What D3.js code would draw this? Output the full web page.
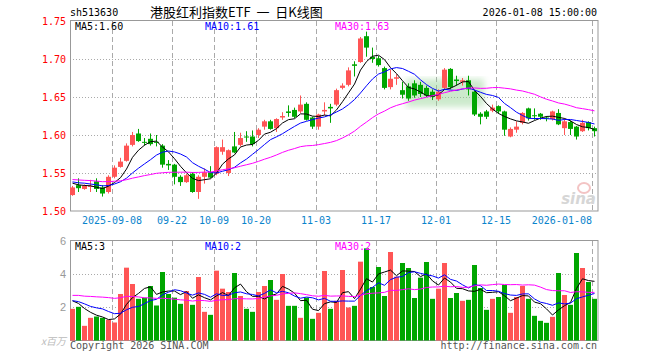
<!DOCTYPE html>
<html>
<head>
<meta charset="utf-8">
<script src="https://cdn.jsdelivr.net/npm/d3@7"></script>
<style>
body { margin: 0; background: #fff; }
svg { display: block; }
</style>
</head>
<body>
<svg id="chart" width="660" height="360"></svg>
<script>
// trading days shown (2025-08-28 .. 2026-01-08)
const dates = [
  "2025-08-28","2025-08-29",
  "2025-09-01","2025-09-02","2025-09-03","2025-09-04","2025-09-05",
  "2025-09-08","2025-09-09","2025-09-10","2025-09-11","2025-09-12",
  "2025-09-15","2025-09-16","2025-09-17","2025-09-18","2025-09-19",
  "2025-09-22","2025-09-23","2025-09-24","2025-09-25","2025-09-26",
  "2025-09-29","2025-09-30",
  "2025-10-09","2025-10-10",
  "2025-10-13","2025-10-14","2025-10-15","2025-10-16","2025-10-17",
  "2025-10-20","2025-10-21","2025-10-22","2025-10-23","2025-10-24",
  "2025-10-27","2025-10-28","2025-10-29","2025-10-30","2025-10-31",
  "2025-11-03","2025-11-04","2025-11-05","2025-11-06","2025-11-07",
  "2025-11-10","2025-11-11","2025-11-12","2025-11-13","2025-11-14",
  "2025-11-17","2025-11-18","2025-11-19","2025-11-20","2025-11-21",
  "2025-11-24","2025-11-25","2025-11-26","2025-11-27","2025-11-28",
  "2025-12-01","2025-12-02","2025-12-03","2025-12-04","2025-12-05",
  "2025-12-08","2025-12-09","2025-12-10","2025-12-11","2025-12-12",
  "2025-12-15","2025-12-16","2025-12-17","2025-12-18","2025-12-19",
  "2025-12-22","2025-12-23","2025-12-24","2025-12-25","2025-12-26",
  "2025-12-29","2025-12-30","2025-12-31",
  "2026-01-05","2026-01-06","2026-01-07","2026-01-08"
];

const openP = [
  1.521,1.534,1.529,1.532,1.539,1.531,1.525,1.545,1.558,1.566,
  1.587,1.602,1.591,1.595,1.591,1.586,1.562,1.561,1.545,1.538,
  1.549,1.525,1.545,1.551,1.549,1.578,1.550,1.585,1.587,1.598,
  1.598,1.600,1.611,1.618,1.609,1.623,1.631,1.633,1.631,1.641,
  1.623,1.611,1.631,1.637,1.640,1.662,1.666,1.693,1.696,1.730,
  1.703,1.701,1.688,1.663,1.674,1.659,1.664,1.668,1.666,1.662,
  1.657,1.647,1.662,1.687,1.673,1.670,1.672,1.657,1.628,1.631,
  1.632,1.638,1.631,1.598,1.607,1.616,1.635,1.626,1.628,1.623,
  1.621,1.629,1.609,1.617,1.611,1.605,1.617,1.609
];
const highP = [
  1.533,1.543,1.535,1.541,1.543,1.534,1.547,1.560,1.570,1.589,
  1.604,1.608,1.596,1.602,1.600,1.588,1.567,1.562,1.547,1.549,
  1.551,1.547,1.556,1.559,1.585,1.594,1.581,1.604,1.603,1.605,
  1.606,1.609,1.620,1.620,1.622,1.630,1.639,1.636,1.652,1.643,
  1.624,1.628,1.643,1.641,1.661,1.668,1.689,1.697,1.729,1.736,
  1.715,1.704,1.690,1.686,1.680,1.670,1.668,1.672,1.670,1.665,
  1.660,1.660,1.688,1.688,1.678,1.675,1.678,1.658,1.630,1.633,
  1.640,1.639,1.632,1.610,1.618,1.630,1.636,1.635,1.629,1.625,
  1.632,1.634,1.622,1.619,1.612,1.620,1.618,1.611
];
const lowP = [
  1.520,1.525,1.528,1.525,1.525,1.519,1.523,1.543,1.557,1.565,
  1.585,1.591,1.586,1.586,1.585,1.557,1.554,1.535,1.533,1.537,
  1.524,1.516,1.536,1.543,1.547,1.574,1.546,1.576,1.585,1.591,
  1.585,1.596,1.607,1.607,1.604,1.620,1.624,1.622,1.629,1.619,
  1.608,1.607,1.626,1.616,1.638,1.660,1.664,1.677,1.695,1.703,
  1.695,1.690,1.660,1.660,1.666,1.648,1.645,1.649,1.650,1.650,
  1.646,1.645,1.660,1.660,1.665,1.665,1.652,1.625,1.614,1.621,
  1.630,1.628,1.599,1.597,1.603,1.614,1.619,1.620,1.620,1.618,
  1.619,1.613,1.600,1.600,1.594,1.604,1.606,1.598
];
const closeP = [
  1.531,1.530,1.533,1.533,1.529,1.523,1.545,1.557,1.565,1.586,
  1.600,1.592,1.590,1.588,1.590,1.561,1.560,1.545,1.538,1.547,
  1.525,1.545,1.551,1.544,1.584,1.584,1.580,1.577,1.596,1.597,
  1.588,1.607,1.618,1.608,1.621,1.625,1.629,1.624,1.640,1.620,
  1.611,1.627,1.633,1.635,1.659,1.665,1.685,1.691,1.727,1.715,
  1.700,1.692,1.662,1.674,1.676,1.653,1.648,1.652,1.654,1.652,
  1.650,1.657,1.686,1.663,1.671,1.672,1.660,1.627,1.624,1.624,
  1.636,1.631,1.607,1.608,1.611,1.629,1.622,1.625,1.624,1.622,
  1.631,1.614,1.618,1.608,1.598,1.616,1.609,1.605
];
// volume, millions
const volume = [
  1.90,2.02,0.88,1.36,1.44,1.36,1.24,1.08,2.79,4.37,
  3.39,2.50,2.57,3.27,2.10,4.11,2.79,2.57,2.20,2.97,
  2.14,3.81,1.72,1.54,4.19,3.11,2.91,4.05,2.67,1.90,
  1.72,2.91,3.27,3.63,2.44,3.99,2.08,2.08,1.36,2.57,
  1.30,1.66,4.17,1.90,2.38,4.23,1.98,2.08,4.73,5.53,
  3.21,4.41,2.67,5.31,3.83,4.65,4.35,2.55,3.77,4.71,
  2.50,3.11,4.65,2.55,2.85,2.38,2.44,4.53,3.15,1.84,
  2.50,2.61,3.33,1.66,2.61,3.27,2.50,1.48,1.18,1.06,
  1.42,4.05,2.73,2.14,5.25,4.35,3.51,2.50
];
// sessions before the window, estimated from where the MA lines start
const priorClose = [
  1.545,1.548,1.543,1.550,1.546,1.541,1.544,1.547,1.542,
  1.540,1.543,1.538,1.545,1.542,1.539,1.544,1.541,1.537,1.543,1.540,
  1.542,1.538,1.544,1.540,1.536,1.541,1.537,1.535,1.539
];
const priorVolume = [
  2.0,2.3,1.8,2.2,1.9,2.1,2.4,1.7,1.8,
  3.8,3.2,4.1,3.5,3.0,3.9,3.4,3.6,3.3,3.7,3.6,
  2.6,2.2,2.9,2.3,2.0,2.8,2.4,2.5,2.3
];

const priceTicks = [1.50, 1.55, 1.60, 1.65, 1.70, 1.75];
const volTicks = [2, 4, 6];
const dateTicks = ["2025-09-08","2025-09-22","2025-10-09","2025-10-20","2025-11-03",
                   "2025-11-17","2025-12-01","2025-12-15","2026-01-08"];
const dateTickLabels = ["2025-09-08","09-22","10-09","10-20","11-03",
                        "11-17","12-01","12-15","2026-01-08"];

const upColor = "#ff5555";
const downColor = "#00a600";
const gridColor = "#aaa";
const mono = "'DejaVu Sans Mono', monospace";

const svg = d3.select("#chart");

const left = 70, right = 598;
const x = d3.scaleBand().domain(dates).range([left, right]).paddingInner(0).paddingOuter(0);
const y = d3.scaleLinear().domain([1.50, 1.75]).range([211, 21]);
const vy = d3.scaleLinear().domain([0, 6]).range([340.5, 240.5]);
const cx = d => x(d) + 2.5;

function movingAvg(prior, values, n) {
    const all = prior.concat(values);
    return values.map((v, i) => d3.mean(all.slice(prior.length + i - n + 1, prior.length + i + 1)));
}

// ---------- header ----------
svg.append("text").attr("x", 70).attr("y", 16)
    .style("font", "10px " + mono).attr("fill", "#000").text("sh513630");
svg.append("text").attr("x", 150).attr("y", 17)
    .style("font-family", "'Noto Sans CJK SC', sans-serif").style("font-size", "13px")
    .attr("fill", "#000").text("港股红利指数ETF\u00a0\u00a0一\u00a0\u00a0日K线图");
svg.append("text").attr("x", 597).attr("y", 16).attr("text-anchor", "end")
    .style("font", "10px " + mono).attr("fill", "#000").text("2026-01-08 15:00:00");

// ---------- price panel ----------
const pricePanel = svg.append("g");

// dotted horizontal gridlines
pricePanel.selectAll(".hgrid").data(priceTicks.slice(1, -1)).enter().append("line")
    .attr("x1", left).attr("x2", right)
    .attr("y1", d => Math.round(y(d)) + 0.5).attr("y2", d => Math.round(y(d)) + 0.5)
    .attr("stroke", gridColor).attr("stroke-dasharray", "1,2");

// dashed vertical gridlines
pricePanel.selectAll(".vgrid").data(dateTicks).enter().append("line")
    .attr("x1", d => x(d) + 0.5).attr("x2", d => x(d) + 0.5)
    .attr("y1", 21).attr("y2", 211)
    .attr("stroke", gridColor).attr("stroke-dasharray", "5,3");

// border
pricePanel.append("rect").attr("x", left + 0.5).attr("y", 20.5)
    .attr("width", right - left - 0.5).attr("height", 190.5)
    .attr("fill", "none").attr("stroke", "#999");

// price labels
pricePanel.selectAll(".plabel").data(priceTicks).enter().append("text")
    .attr("x", 66).attr("y", d => y(d) + 4).attr("text-anchor", "end")
    .style("font", "10px " + mono).attr("fill", "#f00")
    .text(d => d.toFixed(2));

// date labels (the last one is pulled inside the plot)
pricePanel.selectAll(".dlabel").data(dateTicks).enter().append("text")
    .attr("x", d => x(d))
    .attr("y", 224)
    .attr("text-anchor", (d, i) => i === dateTicks.length - 1 ? "end" : "middle")
    .style("font", "10px " + mono).attr("fill", "#0a84cc")
    .text((d, i) => dateTickLabels[i]);

// sina watermark
pricePanel.append("ellipse").attr("cx", 584).attr("cy", 188).attr("rx", 6).attr("ry", 5)
    .attr("fill", "none").attr("stroke", "#f3c4c4").attr("stroke-width", 2);
pricePanel.append("text").attr("x", 596).attr("y", 204).attr("text-anchor", "end")
    .style("font-family", "'DejaVu Sans', sans-serif").style("font-size", "15px")
    .style("font-weight", "bold").style("font-style", "italic")
    .attr("fill", "#d6d6d6").text("sina");

// faint overlay patch in the middle of the chart
const defs = svg.append("defs");
defs.append("filter").attr("id", "blur").append("feGaussianBlur").attr("stdDeviation", 3);
pricePanel.append("rect").attr("x", 406).attr("y", 79).attr("width", 78).attr("height", 28)
    .attr("fill", "#8fd08f").attr("opacity", 0.45).attr("filter", "url(#blur)");

// candles
const candles = pricePanel.selectAll(".candle").data(dates).enter().append("g");
candles.append("line")
    .attr("x1", d => cx(d)).attr("x2", d => cx(d))
    .attr("y1", (d, i) => y(highP[i])).attr("y2", (d, i) => y(lowP[i]))
    .attr("stroke", (d, i) => closeP[i] >= openP[i] ? upColor : downColor);
candles.append("rect")
    .attr("x", d => x(d))
    .attr("y", (d, i) => y(Math.max(openP[i], closeP[i])))
    .attr("width", 5)
    .attr("height", (d, i) => Math.max(1, Math.abs(y(openP[i]) - y(closeP[i]))))
    .attr("fill", (d, i) => closeP[i] >= openP[i] ? upColor : downColor);

// moving averages
const maDefs = [[5, "#000"], [10, "#0000ff"], [30, "#ff00ff"]];
const priceLine = d3.line().x((d, i) => cx(dates[i])).y(d => y(d));
maDefs.forEach(([n, c]) => {
    pricePanel.append("path").datum(movingAvg(priorClose, closeP, n))
        .attr("d", priceLine).attr("fill", "none").attr("stroke", c).attr("stroke-width", 1);
});

// MA legend
const priceLegend = [["MA5:1.60", 75, "#000"], ["MA10:1.61", 205, "#0000ff"], ["MA30:1.63", 335, "#ff00ff"]];
priceLegend.forEach(([t, lx, c]) => {
    pricePanel.append("text").attr("x", lx).attr("y", 30)
        .style("font", "10px " + mono).attr("fill", c).text(t);
});

// ---------- volume panel ----------
const volPanel = svg.append("g");

volPanel.selectAll(".hgrid").data(volTicks.slice(0, -1)).enter().append("line")
    .attr("x1", left).attr("x2", right)
    .attr("y1", d => Math.round(vy(d)) + 0.5).attr("y2", d => Math.round(vy(d)) + 0.5)
    .attr("stroke", gridColor).attr("stroke-dasharray", "1,2");

volPanel.selectAll(".vgrid").data(dateTicks).enter().append("line")
    .attr("x1", d => x(d) + 0.5).attr("x2", d => x(d) + 0.5)
    .attr("y1", 241).attr("y2", 340)
    .attr("stroke", gridColor).attr("stroke-dasharray", "5,3");

volPanel.append("rect").attr("x", left + 0.5).attr("y", 240.5)
    .attr("width", right - left - 0.5).attr("height", 100)
    .attr("fill", "none").attr("stroke", "#999");

volPanel.selectAll(".vlabel").data(volTicks).enter().append("text")
    .attr("x", 66).attr("y", d => vy(d) + 4).attr("text-anchor", "end")
    .style("font-family", "'Liberation Sans', Arial, sans-serif").style("font-size", "11px")
    .attr("fill", "#999").text(d => d);

volPanel.append("text").attr("x", 66).attr("y", 345).attr("text-anchor", "end")
    .style("font-family", "'Noto Sans CJK SC', sans-serif").style("font-size", "10px")
    .style("font-style", "italic").attr("fill", "#bbb").text("x百万");

volPanel.selectAll(".vbar").data(dates).enter().append("rect")
    .attr("x", d => x(d))
    .attr("y", (d, i) => vy(volume[i]))
    .attr("width", 5)
    .attr("height", (d, i) => vy(0) - vy(volume[i]))
    .attr("fill", (d, i) => closeP[i] >= openP[i] ? upColor : downColor);

const volLine = d3.line().x((d, i) => cx(dates[i])).y(d => vy(d));
maDefs.forEach(([n, c]) => {
    volPanel.append("path").datum(movingAvg(priorVolume, volume, n))
        .attr("d", volLine).attr("fill", "none").attr("stroke", c).attr("stroke-width", 1);
});

const volLegend = [["MA5:3", 75, "#000"], ["MA10:2", 205, "#0000ff"], ["MA30:2", 335, "#ff00ff"]];
volLegend.forEach(([t, lx, c]) => {
    volPanel.append("text").attr("x", lx).attr("y", 250)
        .style("font", "10px " + mono).attr("fill", c).text(t);
});

// footer
svg.append("text").attr("x", 70).attr("y", 349)
    .style("font", "10px " + mono).attr("fill", "#555").text("Copyright 2026 SINA.COM");
svg.append("text").attr("x", 597).attr("y", 349).attr("text-anchor", "end")
    .style("font", "10px " + mono).attr("fill", "#555").text("http://finance.sina.com.cn");
</script>
</body>
</html>
